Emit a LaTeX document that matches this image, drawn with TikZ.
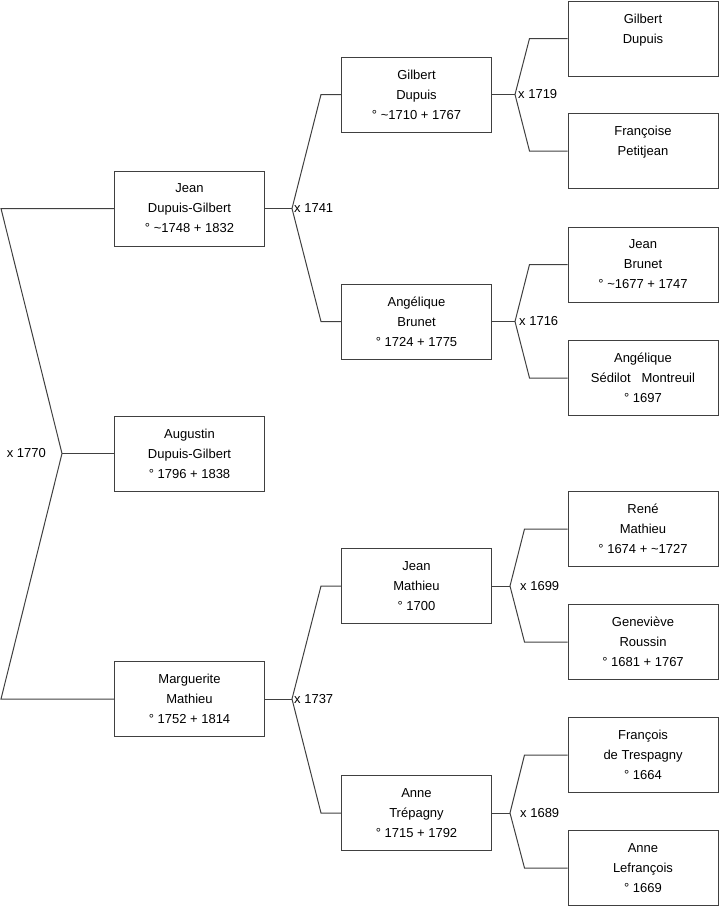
\documentclass[tikz,border=0pt]{standalone}
\usepackage{fontspec}
\setmainfont{Liberation Sans}

\begin{document}
\begin{tikzpicture}[x=1pt,y=-1pt,
  person/.style={draw=black!75, line width=1pt, minimum width=150pt,
    minimum height=75pt, align=center, inner sep=0pt,
    font=\fontsize{13}{20}\selectfont},
  link/.style={draw=black!75, line width=1pt},
  wed/.style={anchor=west, inner sep=0pt, font=\fontsize{13}{16}\selectfont}]
  \useasboundingbox (0,0) rectangle (719,908);
  % boxes numbered as in an ahnentafel (1 = child, 2/3 = parents, ...)
  \foreach \n/\x/\y/\txt in {
      1/189.5/453.5/{Augustin\\Dupuis-Gilbert\\° 1796 + 1838},
      2/189.5/208.5/{Jean\\Dupuis-Gilbert\\° \textasciitilde1748 + 1832},
      3/189.5/699/{Marguerite\\Mathieu\\° 1752 + 1814},
      4/416.5/94.5/{Gilbert\\Dupuis\\° \textasciitilde1710 + 1767},
      5/416.5/321.5/{Angélique\\Brunet\\° 1724 + 1775},
      6/416.5/586/{Jean\\Mathieu\\° 1700},
      7/416.5/813/{Anne\\Trépagny\\° 1715 + 1792},
      8/643/38.5/{Gilbert\\Dupuis\\\phantom{° 1697}},
      9/643/151/{Françoise\\Petitjean\\\phantom{° 1697}},
      10/643/264.5/{Jean\\Brunet\\° \textasciitilde1677 + 1747},
      11/643/378/{Angélique\\Sédilot\ \ \ Montreuil\\° 1697},
      12/643/529/{René\\Mathieu\\° 1674 + \textasciitilde1727},
      13/643/642/{Geneviève\\Roussin\\° 1681 + 1767},
      14/643/755/{François\\de Trespagny\\° 1664},
      15/643/868/{Anne\\Lefrançois\\° 1669}}
    \node[person] (s\n) at (\x,\y) {\txt};
  % parents of the child
  \coordinate (x1) at (62,453.5);
  \coordinate (f2) at (1,208.5);
  \coordinate (f3) at (1,699);
  \draw[link] (s2.west) -- (f2) -- (x1) -- (f3) -- (s3.west);
  \draw[link] (x1) -- (s1.west);
  \node[anchor=east, inner sep=0pt, font=\fontsize{13}{16}\selectfont] (m1)
    at ([xshift=-16pt]x1) {x 1770};
  % older couples: child/father/mother/fork/elbow/gap/year
  \foreach \c/\f/\m/\d/\e/\g/\yr in {2/4/5/27/20/2/1741, 3/6/7/27/20/2/1737,
      4/8/9/23/38/3/1719, 5/10/11/23/38/4/1716,
      6/12/13/18/43/10/1699, 7/14/15/18/43/10/1689} {
    \coordinate (x\c) at ([xshift=\d pt]s\c.east);
    \draw[link] (s\c.east) -- (x\c);
    \draw[link] (s\f.west) -- ++(-\e,0) -- (x\c) -- ([xshift=-\e pt]s\m.west) -- (s\m.west);
    \node[wed] (m\c) at ([xshift=\g pt]x\c) {x \yr};
  }
\end{tikzpicture}
\end{document}
